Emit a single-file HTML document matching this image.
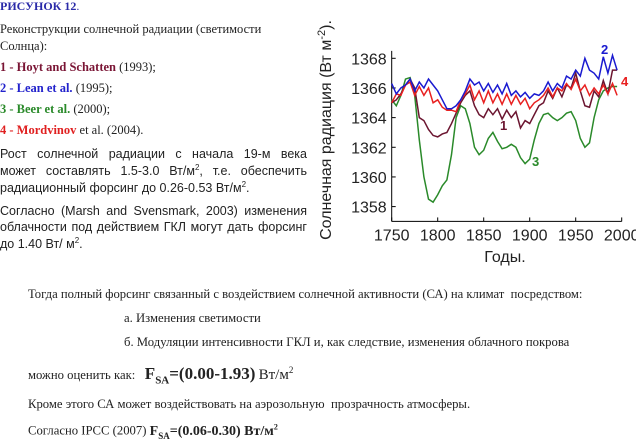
<!DOCTYPE html>
<html><head><meta charset="utf-8"><style>
body{margin:0;width:636px;height:438px;background:#fff;overflow:hidden;position:relative;font-family:"Liberation Serif",serif;color:#222}
.t{position:absolute;white-space:nowrap;line-height:1}
.s{font-family:"Liberation Sans",sans-serif}
.j{position:absolute;left:0;width:307px;text-align:justify;text-align-last:justify;font-family:"Liberation Sans",sans-serif;font-size:12.5px;line-height:1;white-space:nowrap}
</style></head><body>
<div class="t" style="left:0;top:0;font-size:12px;font-weight:bold;color:#2a2aa8">РИСУНОК 12<span style="font-weight:normal">.</span></div>
<div class="t" style="left:0;top:23px;font-size:12.5px">Реконструкции солнечной радиации (светимости</div>
<div class="t" style="left:0;top:40px;font-size:12.5px">Солнца):</div>
<div class="t" style="left:0;top:61px;font-size:12.5px"><b style="color:#7a1535">1 - Hoyt and Schatten</b> (1993);</div>
<div class="t" style="left:0;top:82px;font-size:12.5px"><b style="color:#2222cc">2 - Lean et al.</b> (1995);</div>
<div class="t" style="left:0;top:103px;font-size:12.5px"><b style="color:#2a8a2a">3 - Beer et al.</b> (2000);</div>
<div class="t" style="left:0;top:124px;font-size:12.5px"><b style="color:#e02020">4 - Mordvinov</b> et al. (2004).</div>
<div class="j" style="top:148px">Рост солнечной радиации с начала 19-м века</div>
<div class="j" style="top:164px">может составлять 1.5-3.0 Вт/м<sup style="font-size:8px">2</sup>, т.е. обеспечить</div>
<div class="t s" style="left:0;top:181px;font-size:12.5px">радиационный форсинг до 0.26-0.53 Вт/м<sup style="font-size:8px">2</sup>.</div>
<div class="j" style="top:205px">Согласно (Marsh and Svensmark, 2003) изменения</div>
<div class="j" style="top:221px">облачности под действием ГКЛ могут дать форсинг</div>
<div class="t s" style="left:0;top:237px;font-size:12.5px">до 1.40 Вт/ м<sup style="font-size:8px">2</sup>.</div>

<svg id="chart" style="position:absolute;left:0;top:0" width="636" height="438"></svg>

<div class="t" style="left:28px;top:288px;font-size:12.65px">Тогда полный форсинг связанный с воздействием солнечной активности (СА) на климат&nbsp; посредством:</div>
<div class="t" style="left:124px;top:312px;font-size:12.7px">а. Изменения светимости</div>
<div class="t" style="left:124px;top:336px;font-size:12.7px">б. Модуляции интенсивности ГКЛ и, как следствие, изменения облачного покрова</div>
<div class="t" style="left:28px;top:365px;font-size:12.7px">можно оценить как:&nbsp;&nbsp; <b style="font-size:17px">F<sub style="font-size:11px">SA</sub>=(0.00-1.93)</b> <span style="font-size:15px">Вт/м<sup style="font-size:9px">2</sup></span></div>
<div class="t" style="left:28px;top:398px;font-size:12.7px">Кроме этого СА может воздействовать на аэрозольную&nbsp; прозрачность атмосферы.</div>
<div class="t" style="left:28px;top:423px;font-size:12.7px">Согласно IPCC (2007) <b style="font-size:14px">F<sub style="font-size:9px">SA</sub>=(0.06-0.30) Вт/м<sup style="font-size:8px">2</sup></b></div>

<script>
const years=[1750,1755,1760,1765,1770,1775,1780,1785,1790,1795,1800,1805,1810,1815,1820,1825,1830,1835,1840,1845,1850,1855,1860,1865,1870,1875,1880,1885,1890,1895,1900,1905,1910,1915,1920,1925,1930,1935,1940,1945,1950,1955,1960,1965,1970,1975,1980,1985,1990,1995];
const hoyt=[1365.0,1365.2,1365.6,1366.2,1366.6,1366.0,1364.0,1363.8,1363.2,1362.8,1362.7,1362.9,1363.0,1363.6,1364.3,1365.0,1365.5,1365.8,1364.8,1364.2,1364.0,1364.6,1364.2,1364.6,1363.9,1364.5,1364.0,1364.4,1363.3,1363.8,1363.6,1364.2,1364.8,1365.0,1365.8,1365.3,1366.0,1365.4,1366.2,1366.0,1367.0,1365.8,1364.8,1364.7,1365.8,1365.4,1366.5,1365.6,1367.2,1367.2];
const lean=[1366.3,1365.6,1366.0,1366.2,1366.6,1365.8,1366.4,1366.0,1366.6,1366.2,1365.8,1365.2,1364.6,1364.6,1364.8,1365.2,1365.8,1366.6,1366.2,1366.4,1365.8,1366.3,1365.7,1366.2,1365.6,1366.3,1365.5,1365.8,1365.4,1365.7,1365.3,1365.6,1365.5,1365.8,1366.4,1365.8,1366.3,1366.0,1366.8,1366.6,1367.2,1366.8,1368.0,1367.2,1367.0,1366.6,1368.1,1367.0,1368.2,1367.2];
const beer=[1365.2,1364.8,1365.5,1366.6,1366.7,1365.5,1362.5,1360.0,1358.5,1358.3,1358.8,1359.4,1359.8,1361.5,1364.0,1364.8,1364.6,1363.6,1362.0,1361.5,1361.8,1362.6,1363.0,1362.4,1361.9,1362.0,1362.2,1362.0,1361.3,1360.9,1361.2,1362.5,1363.6,1364.2,1364.3,1364.0,1363.8,1364.0,1364.3,1364.4,1363.8,1362.6,1362.0,1362.3,1364.0,1365.2,1365.8,1366.0,1366.1,1366.1];
const mordvinov=[1365.0,1365.6,1365.5,1366.2,1366.4,1365.5,1366.1,1365.5,1366.0,1365.0,1365.2,1364.7,1364.5,1364.5,1364.4,1365.2,1365.6,1366.2,1365.2,1365.8,1365.0,1365.8,1365.0,1365.6,1364.9,1365.6,1364.9,1365.5,1364.9,1365.3,1364.6,1365.0,1365.2,1365.5,1366.0,1365.4,1366.0,1365.8,1366.3,1365.9,1366.6,1365.8,1366.2,1365.5,1366.0,1365.6,1366.2,1365.6,1366.3,1365.5];
const xTicks=[1750,1800,1850,1900,1950,2000];
const yTicks=[1358,1360,1362,1364,1366,1368];

const X=v=>391.7+(v-1750)*230/250;
const Y=v=>58.3+(1368-v)*14.83;
const svg=document.getElementById('chart');
const NS='http://www.w3.org/2000/svg';
function mk(tag,attrs,txt){const e=document.createElementNS(NS,tag);for(const k in attrs)e.setAttribute(k,attrs[k]);if(txt!==undefined)e.textContent=txt;svg.appendChild(e);return e;}
const axX=X(1750),axY=Y(1357);
let a=mk('line',{x1:axX,y1:axY,x2:X(2000),y2:axY,stroke:'#000','stroke-width':1});


a=mk('line',{x1:axX,y1:Y(1368.5),x2:axX,y2:axY,stroke:'#000','stroke-width':1});


xTicks.forEach(t=>{
  const l=mk('line',{x1:X(t),y1:axY,x2:X(t),y2:axY-4,stroke:'#000'});
  
  
  const s=mk('text',{x:X(t),y:axY+19,'text-anchor':'middle','font-family':'Liberation Sans, sans-serif','font-size':16,fill:'#222'},t);
  
  
});
yTicks.forEach(t=>{
  const l=mk('line',{x1:axX,y1:Y(t),x2:axX+4,y2:Y(t),stroke:'#000'});
  
  
  const s=mk('text',{x:axX-5,y:Y(t)+6,'text-anchor':'end','font-family':'Liberation Sans, sans-serif','font-size':16,fill:'#222'},t);
  
  
});
const series=[[beer,'#2a8a2a','series-beer'],[hoyt,'#6b1530','series-hoyt'],[mordvinov,'#e82020','series-mordvinov'],[lean,'#1a1ad0','series-lean']];
series.forEach(([d,c,n])=>{
  const p=mk('polyline',{points:d.map((v,i)=>X(years[i])+','+Y(v)).join(' '),fill:'none',stroke:c,'stroke-width':1.5});
  
  
});
const lbl=[['2',601,54,'#1a1ad0'],['4',621,86,'#e82020'],['1',500,130,'#6b1530'],['3',532,166,'#2a8a2a']];
lbl.forEach(([t,x,y,c])=>{
  const s=mk('text',{x:x,y:y,'font-family':'Liberation Sans, sans-serif','font-size':13,'font-weight':'bold',fill:c},t);
  
  
});
let ti=mk('text',{x:505,y:262,'text-anchor':'middle','font-family':'Liberation Sans, sans-serif','font-size':16,fill:'#222'},'Годы.');


ti=mk('text',{x:0,y:0,transform:'translate(331,130) rotate(-90)','text-anchor':'middle','font-family':'Liberation Sans, sans-serif','font-size':16,fill:'#222'});
ti.innerHTML='Солнечная радиация (Вт м<tspan dy="-6" font-size="11">-2</tspan><tspan dy="6">).</tspan>';


</script>
</body></html>
